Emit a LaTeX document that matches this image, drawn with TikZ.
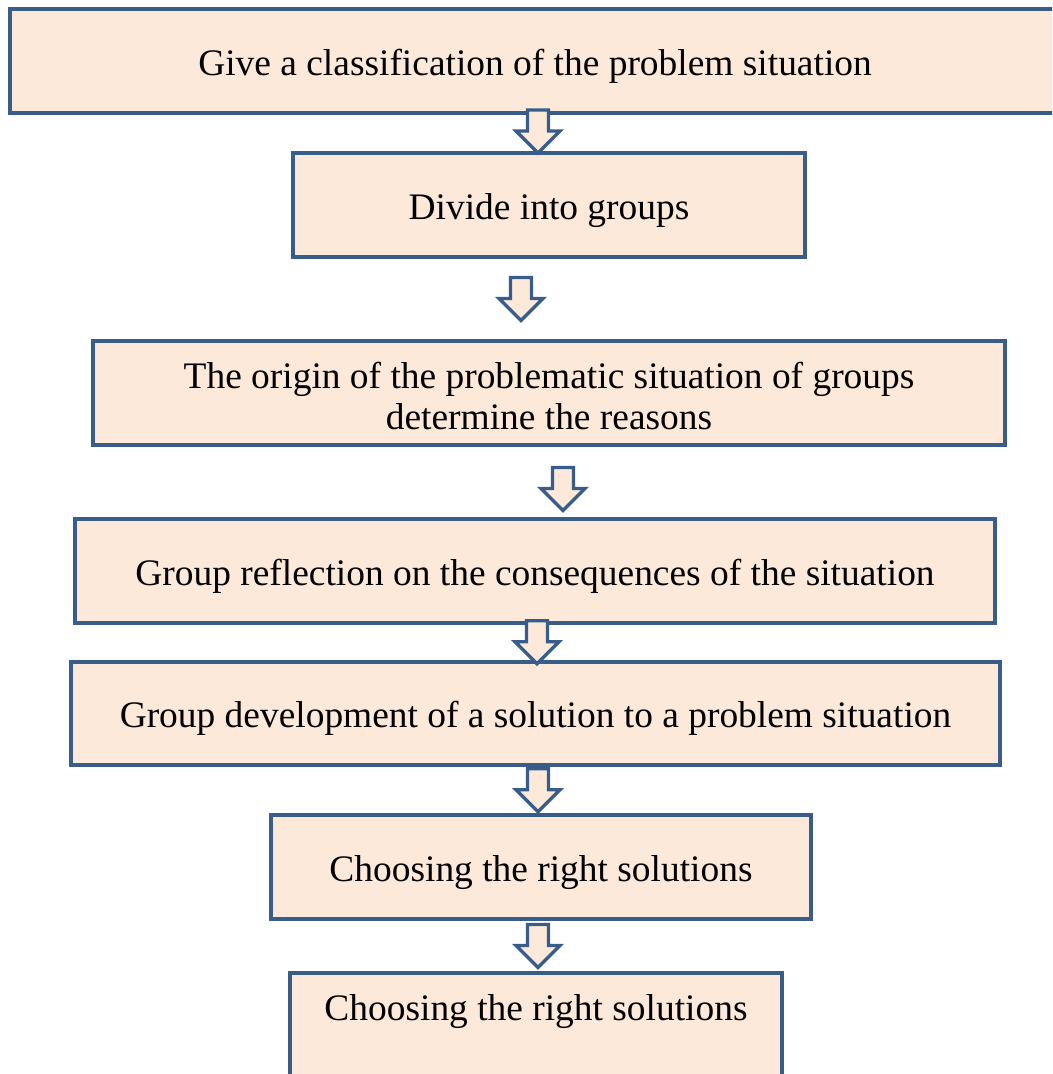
\documentclass[tikz,border=0pt]{standalone}
\usepackage{fontspec}
\setmainfont{Liberation Serif}
\usetikzlibrary{calc}
\definecolor{boxline}{RGB}{56,93,138}
\definecolor{boxfill}{RGB}{253,233,217}

% hollow down arrow between two boxes, at a given x
\newcommand{\flowarrow}[4]{%
  \coordinate (#1#2) at ($(#1.south)!.5!(#2.north)+(0,#4)$);
  \draw[blockarrow] (#3,0 |- #1#2) ++(-10.5,-21.5) -- ++(21,0) -- ++(0,21) -- ++(11.5,0)
    -- ++(-22,22) -- ++(-22,-22) -- ++(11.5,0) -- cycle;}

\begin{document}
\begin{tikzpicture}[x=0.02cm,y=-0.02cm,
  stepbox/.style={draw=boxline,fill=boxfill,line width=0.08cm,minimum height=2.08cm,
    inner sep=0pt,align=center,font=\fontsize{21.3}{23.8}\selectfont,
    text height=16.4pt,text depth=0pt},
  twolines/.style={text height=42pt},
  blockarrow/.style={draw=boxline,fill=boxfill,line width=0.065cm,line join=miter}]
\useasboundingbox (0,0) rectangle (1052,1074);
\clip (0,0) rectangle (1052,1074);
\node[stepbox,minimum width=21cm] (b1) at (535,61) {Give a classification of the problem situation};
\node[stepbox,minimum width=10.24cm] (b2) at (549,205) {Divide into groups};
\node[stepbox,twolines,minimum width=18.24cm] (b3) at (549,393) {The origin of the problematic situation of groups\\determine the reasons};
\node[stepbox,minimum width=18.4cm] (b4) at (535,571) {Group reflection on the consequences of the situation};
\node[stepbox,minimum width=18.58cm] (b5) at (535.5,713.5) {Group development of a solution to a problem situation};
\node[stepbox,minimum width=10.8cm] (b6) at (541,867) {Choosing the right solutions};
\node[stepbox,twolines,minimum width=9.84cm] (b7) at (536,1025) {Choosing the right solutions\\\mbox{}};
\flowarrow{b1}{b2}{538}{-1.5}
\flowarrow{b2}{b3}{521}{0}
\flowarrow{b3}{b4}{563}{7}
\flowarrow{b4}{b5}{537}{0}
\flowarrow{b5}{b6}{538}{0}
\flowarrow{b6}{b7}{538}{0}
\end{tikzpicture}
\end{document}
